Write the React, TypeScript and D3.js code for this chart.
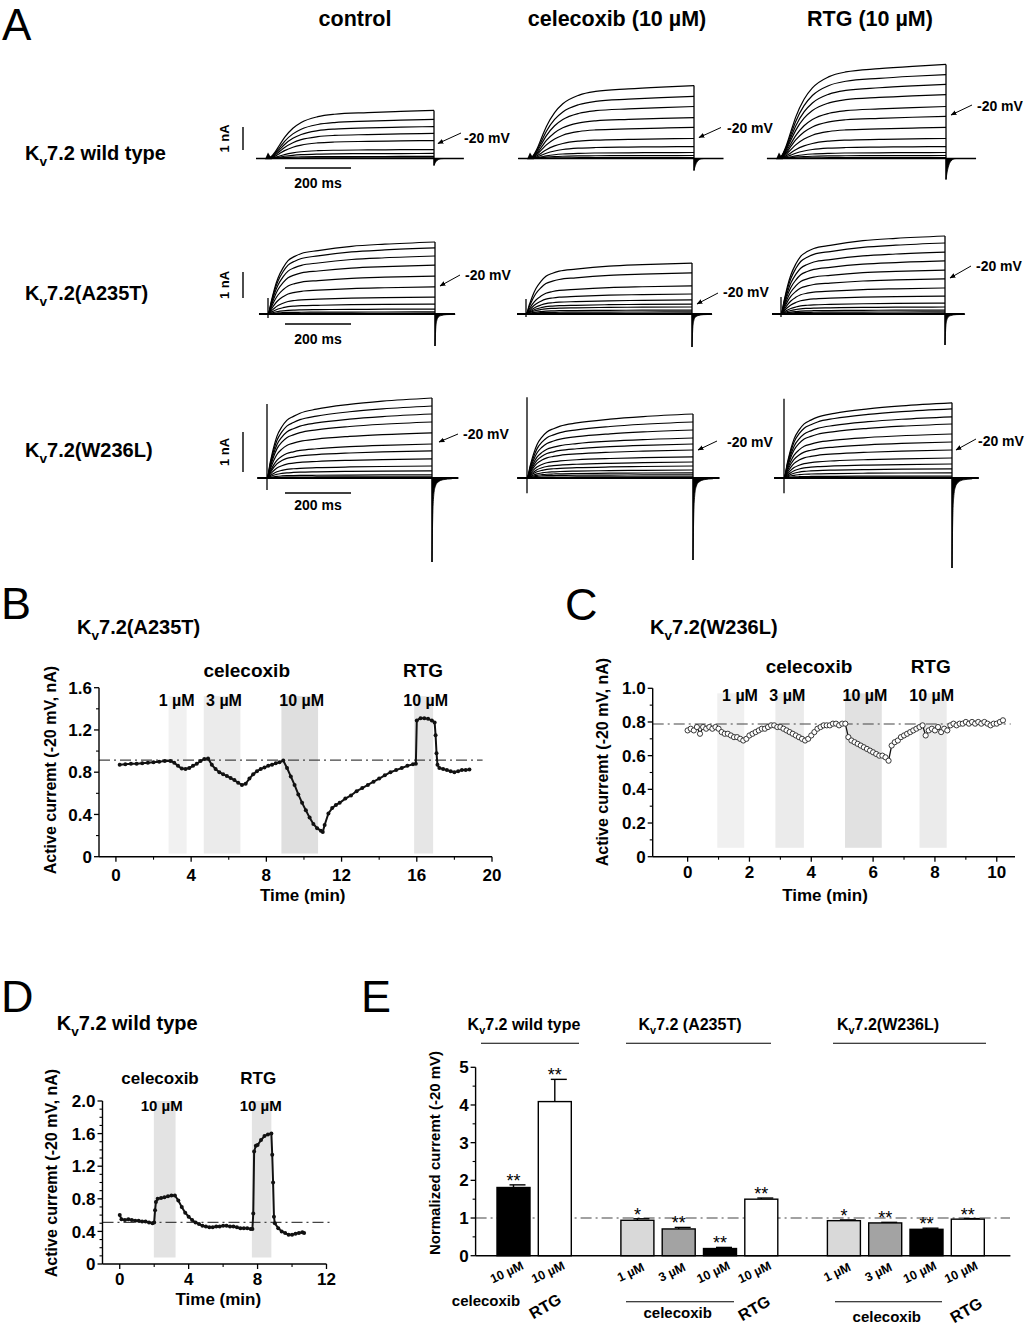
import React from "react";
import * as d3 from "d3";

const FONT = "'Liberation Sans', Arial, Helvetica, sans-serif";

// ---------------- Panel A data ----------------
const conditionLabels = ["control", "celecoxib (10 µM)", "RTG (10 µM)"];
const constructNames = [" wild type", "(A235T)", "(W236L)"];
// end-of-step amplitudes (nA) of each trace, per condition
const ampWT = [
  [2.09, 1.7, 1.39, 1.09, 0.78, 0.39, 0.22, 0.09, 0.03],
  [3.17, 2.7, 2.26, 1.78, 1.35, 0.87, 0.52, 0.26, 0.13, 0.04],
  [4.09, 3.65, 3.22, 2.78, 2.26, 1.83, 1.35, 0.87, 0.52, 0.26, 0.13, 0.04],
];
const ampA235T = [
  [2.77, 2.54, 2.23, 1.88, 1.46, 1.04, 0.65, 0.38, 0.19, 0.08, 0.03],
  [1.96, 1.58, 1.08, 0.77, 0.54, 0.38, 0.27, 0.15, 0.08, 0.03],
  [3.0, 2.73, 2.38, 2.04, 1.69, 1.35, 1.0, 0.69, 0.42, 0.27, 0.15, 0.08, 0.03],
];
const ampW236L = [
  [2.0, 1.8, 1.6, 1.4, 1.13, 0.85, 0.68, 0.48, 0.3, 0.18, 0.08, 0.03],
  [1.6, 1.4, 1.2, 1.0, 0.85, 0.7, 0.53, 0.4, 0.3, 0.2, 0.13, 0.08, 0.03],
  [1.88, 1.73, 1.53, 1.35, 1.1, 0.9, 0.7, 0.5, 0.35, 0.23, 0.13, 0.05, 0.02],
];
// activation time course (ms, fraction of final amplitude)
const actTimeWT = [0, 10, 20, 35, 50, 75, 100, 150, 200, 300, 400, 500];
const actFracWT = [0, 0.04, 0.12, 0.28, 0.44, 0.63, 0.75, 0.87, 0.92, 0.955, 0.98, 1];
const actTimeMut = [0, 10, 20, 30, 45, 60, 80, 100, 150, 250, 350, 500];
const actFracA235T = [0, 0.18, 0.36, 0.5, 0.64, 0.74, 0.8, 0.84, 0.88, 0.94, 0.97, 1];
const actFracW236L = [0, 0.2, 0.38, 0.52, 0.64, 0.72, 0.77, 0.81, 0.86, 0.92, 0.96, 1];
// tail transient depth (nA) and its shape (ms after step end, fraction)
const tailWT = [0.3, 0.52, 0.91];
const tailA235T = [1.23, 1.27, 1.19];
const tailW236L = [2.1, 2.05, 2.25];
const tailTimeWT = [0, 4, 9, 15, 22, 30];
const tailFracWT = [1, 0.6, 0.3, 0.12, 0.03, 0];
const tailTimeMut = [0, 2, 5, 10, 18, 35, 60];
const tailFracMut = [1, 0.5, 0.22, 0.1, 0.05, 0.02, 0.01];
// onset capacitive transient (up, down) in nA
const onsetWT = [[0.26, 0.04], [0.26, 0.04], [0.26, 0.04]];
const onsetA235T = [[0.62, 0.15], [0.58, 0.12], [0.65, 0.12]];
const onsetW236L = [[1.85, 0.3], [2.02, 0.38], [1.98, 0.38]];

// ---------------- Panel B data ----------------
const bTime = [0.2,0.5,0.8,1.1,1.4,1.7,2.0,2.3,2.6,2.9,3.1,3.3,3.5,3.7,3.9,4.1,4.3,4.5,4.7,4.9,5.1,5.3,5.5,5.7,5.9,6.1,6.3,6.5,6.7,6.9,7.1,7.3,7.5,7.7,7.9,8.1,8.3,8.5,8.7,8.9,9.1,9.3,9.5,9.7,9.9,10.1,10.3,10.5,10.7,10.9,11.0,11.1,11.3,11.5,11.7,11.9,12.2,12.5,12.8,13.1,13.4,13.7,14.0,14.3,14.6,14.9,15.2,15.5,15.8,15.95,16.0,16.2,16.4,16.6,16.8,16.95,17.0,17.05,17.1,17.2,17.4,17.6,17.8,18.0,18.2,18.4,18.6,18.8];
const bCurrent = [0.87,0.875,0.88,0.88,0.885,0.89,0.895,0.9,0.905,0.905,0.89,0.86,0.835,0.83,0.84,0.86,0.88,0.905,0.925,0.93,0.87,0.83,0.8,0.78,0.765,0.745,0.725,0.7,0.68,0.69,0.74,0.78,0.81,0.83,0.845,0.86,0.87,0.885,0.895,0.91,0.84,0.76,0.68,0.59,0.51,0.44,0.37,0.31,0.27,0.245,0.235,0.3,0.41,0.46,0.49,0.51,0.55,0.58,0.62,0.65,0.68,0.71,0.74,0.77,0.8,0.82,0.84,0.86,0.875,0.88,1.29,1.31,1.31,1.305,1.29,1.27,1.15,0.98,0.87,0.84,0.83,0.82,0.81,0.8,0.81,0.82,0.82,0.825];
const bBandLabels = ["1 µM", "3 µM", "10 µM", "10 µM"];
const bBandStart = [2.8, 4.67, 8.8, 15.86];
const bBandEnd = [3.76, 6.62, 10.75, 16.87];
const bBaseline = 0.915;

// ---------------- Panel C data ----------------
const cTime = [0,0.1,0.2,0.3,0.4,0.5,0.6,0.7,0.8,0.9,1.0,1.1,1.2,1.3,1.4,1.5,1.6,1.7,1.8,1.9,2.0,2.1,2.2,2.3,2.4,2.5,2.6,2.7,2.8,2.9,3.0,3.1,3.2,3.3,3.4,3.5,3.6,3.7,3.8,3.9,4.0,4.1,4.2,4.3,4.4,4.5,4.6,4.7,4.8,4.9,5.0,5.1,5.2,5.3,5.4,5.5,5.6,5.7,5.8,5.9,6.0,6.1,6.2,6.3,6.4,6.5,6.6,6.7,6.8,6.9,7.0,7.1,7.2,7.3,7.4,7.5,7.6,7.7,7.8,7.9,8.0,8.1,8.2,8.3,8.4,8.5,8.6,8.7,8.8,8.9,9.0,9.1,9.2,9.3,9.4,9.5,9.6,9.7,9.8,9.9,10.0,10.1,10.2];
const cCurrent = [0.75,0.76,0.75,0.77,0.73,0.77,0.76,0.77,0.76,0.77,0.76,0.74,0.73,0.73,0.72,0.71,0.71,0.7,0.69,0.7,0.72,0.73,0.74,0.75,0.76,0.76,0.77,0.78,0.78,0.77,0.77,0.76,0.75,0.74,0.73,0.72,0.71,0.7,0.69,0.7,0.72,0.74,0.76,0.77,0.78,0.78,0.78,0.79,0.79,0.78,0.79,0.79,0.71,0.69,0.68,0.67,0.66,0.65,0.64,0.63,0.62,0.61,0.6,0.6,0.59,0.57,0.66,0.68,0.69,0.71,0.72,0.73,0.74,0.75,0.76,0.77,0.78,0.72,0.75,0.76,0.75,0.77,0.74,0.76,0.75,0.78,0.79,0.78,0.79,0.79,0.8,0.79,0.8,0.79,0.8,0.79,0.8,0.79,0.78,0.79,0.79,0.8,0.81];
const cBandLabels = ["1 µM", "3 µM", "10 µM", "10 µM"];
const cBandStart = [0.96, 2.84, 5.09, 7.5];
const cBandEnd = [1.83, 3.76, 6.28, 8.38];
const cBaseline = 0.788;

// ---------------- Panel D data ----------------
const dTime = [0.0,0.1,0.3,0.5,0.7,0.9,1.1,1.3,1.5,1.7,1.9,2.0,2.05,2.1,2.2,2.4,2.6,2.8,3.0,3.2,3.4,3.6,3.8,4.0,4.2,4.4,4.6,4.8,5.0,5.2,5.4,5.6,5.8,6.0,6.2,6.4,6.6,6.8,7.0,7.2,7.4,7.6,7.7,7.75,7.8,7.9,8.0,8.2,8.4,8.6,8.8,8.85,8.9,8.95,9.0,9.2,9.4,9.6,9.8,10.0,10.2,10.4,10.6,10.7];
const dCurrent = [0.6,0.55,0.54,0.55,0.54,0.53,0.53,0.52,0.52,0.51,0.5,0.51,0.66,0.76,0.8,0.81,0.82,0.83,0.84,0.84,0.78,0.7,0.63,0.58,0.54,0.51,0.49,0.47,0.46,0.45,0.45,0.46,0.46,0.47,0.47,0.46,0.46,0.45,0.44,0.44,0.44,0.43,0.43,0.62,1.38,1.45,1.46,1.52,1.57,1.59,1.6,1.34,1.0,0.58,0.5,0.44,0.4,0.38,0.36,0.36,0.37,0.38,0.39,0.38];
const dBandLabels = ["10 µM", "10 µM"];
const dBandStart = [1.98, 7.67];
const dBandEnd = [3.24, 8.8];
const dBaseline = 0.51;

// ---------------- Panel E data ----------------
const eGroups = [" wild type", " (A235T)", "(W236L)"];
const eSlot = [0, 1, 3, 4, 5, 6, 8, 9, 10, 11];
const eConc = ["10 µM", "10 µM", "1 µM", "3 µM", "10 µM", "10 µM", "1 µM", "3 µM", "10 µM", "10 µM"];
const eTreatment = ["cel10", "rtg", "cel1", "cel3", "cel10", "rtg", "cel1", "cel3", "cel10", "rtg"];
const eMean = [1.81, 4.09, 0.94, 0.71, 0.19, 1.5, 0.93, 0.87, 0.7, 0.97];
const eErr = [0.07, 0.59, 0.04, 0.04, 0.03, 0.03, 0.02, 0.015, 0.03, 0.015];
const eStars = ["**", "**", "*", "**", "**", "**", "*", "**", "**", "**"];

const treatmentFill: Record<string, string> = { cel1: "#d9d9d9", cel3: "#a3a3a3", cel10: "#000", rtg: "#fff" };

// ---------------- helpers ----------------
function Kv({ x, y, rest, size, weight = "bold", anchor = "start" }: any) {
  return (
    <text x={x} y={y} fontSize={size} fontWeight={weight} textAnchor={anchor}>
      K<tspan dy={size * 0.28} fontSize={size * 0.68}>v</tspan>
      <tspan dy={-size * 0.28}>{rest}</tspan>
    </text>
  );
}

function AxisLeft({ scale, x, major, minor, fmt, fontSize = 17 }: any) {
  const [d0, d1] = scale.domain();
  return (
    <g>
      <line x1={x} x2={x} y1={scale(d0)} y2={scale(d1)} stroke="#000" strokeWidth={1.4} />
      {minor.map((v: number, i: number) => (
        <line key={"m" + i} x1={x - 3} x2={x} y1={scale(v)} y2={scale(v)} stroke="#000" strokeWidth={1.1} />
      ))}
      {major.map((v: number, i: number) => (
        <g key={i}>
          <line x1={x - 5} x2={x} y1={scale(v)} y2={scale(v)} stroke="#000" strokeWidth={1.3} />
          <text x={x - 7} y={scale(v) + fontSize * 0.36} textAnchor="end" fontSize={fontSize} fontWeight="bold">
            {fmt(v)}
          </text>
        </g>
      ))}
    </g>
  );
}

function AxisBottom({ scale, y, major, minor, fontSize = 17, labelY }: any) {
  const [r0, r1] = scale.range();
  return (
    <g>
      <line x1={r0} x2={r1} y1={y} y2={y} stroke="#000" strokeWidth={1.4} />
      {minor.map((v: number, i: number) => (
        <line key={"m" + i} x1={scale(v)} x2={scale(v)} y1={y} y2={y + 3} stroke="#000" strokeWidth={1.1} />
      ))}
      {major.map((v: number, i: number) => (
        <g key={i}>
          <line x1={scale(v)} x2={scale(v)} y1={y} y2={y + 5} stroke="#000" strokeWidth={1.3} />
          <text x={scale(v)} y={labelY} textAnchor="middle" fontSize={fontSize} fontWeight="bold">
            {v}
          </text>
        </g>
      ))}
    </g>
  );
}

const dashDot = "11 4 2 4";

// ---------------- Panel A ----------------
const rowsA = [
  { amps: ampWT, time: actTimeWT, frac: actFracWT, tail: tailWT, tailT: tailTimeWT, tailF: tailFracWT, onset: onsetWT, wedge: true },
  { amps: ampA235T, time: actTimeMut, frac: actFracA235T, tail: tailA235T, tailT: tailTimeMut, tailF: tailFracMut, onset: onsetA235T, wedge: false },
  { amps: ampW236L, time: actTimeMut, frac: actFracW236L, tail: tailW236L, tailT: tailTimeMut, tailF: tailFracMut, onset: onsetW236L, wedge: false },
];
const layoutA = [
  { base: 158.5, px: 23, starts: [268, 530, 779], ends: [434, 694, 946], ext: [-36, 590], bar: [127, 150], msBarY: 168, msTextY: 188, labelY: 160 },
  { base: 314, px: 26, starts: [268, 526, 781], ends: [435, 692, 945], ext: [-27, 560], bar: [272, 298], msBarY: 324, msTextY: 344, labelY: 300 },
  { base: 478, px: 40, starts: [267, 527, 784], ends: [432, 693, 952], ext: [-28, 580], bar: [432, 472], msBarY: 493, msTextY: 510, labelY: 457 },
];
const mvPos = [
  [[464, 143, 461, 133, 438, 143.5], [727, 133, 721, 127.5, 699, 137.5], [977, 111, 972, 105, 951, 115]],
  [[465, 280, 460, 275, 440, 286], [723, 297, 718, 293, 697, 304], [976, 271, 971, 266, 950, 278]],
  [[463, 439, 458, 434, 439, 442], [727, 447, 717, 441, 698, 450], [978, 446, 976, 439, 956, 450]],
];

function TraceSet({ r, c }: any) {
  const L = layoutA[r];
  const R = rowsA[r];
  const x = d3.scaleLinear().domain([0, 500]).range([L.starts[c], L.ends[c]]);
  const y = d3.scaleLinear().domain([0, 1]).range([L.base, L.base - L.px]);
  const line = d3
    .line<[number, number]>()
    .x((d) => x(d[0]))
    .y((d) => y(d[1]))
    .curve(d3.curveMonotoneX);
  const amps = R.amps[c];
  const maxA = d3.max(amps) as number;
  const tail = R.tail[c];
  const area = d3
    .area<number>()
    .x((_, i) => x(500 + R.tailT[i]))
    .y0(y(0))
    .y1((_, i) => y(-tail * R.tailF[i]))
    .curve(d3.curveMonotoneX);
  const [up, down] = R.onset[c];
  const m = mvPos[r][c];
  return (
    <g>
      <line x1={x(L.ext[0])} x2={x(L.ext[1])} y1={y(0)} y2={y(0)} stroke="#000" strokeWidth={r === 0 ? 1.4 : 2} />
      {amps.map((a: number, i: number) => {
        const pts: [number, number][] = [[L.ext[0], 0] as [number, number]].concat(
          R.time.map((t: number, k: number) => [t, a * R.frac[k]] as [number, number])
        );
        return <path key={i} d={line(pts) as string} fill="none" stroke="#000" strokeWidth={1.2} />;
      })}
      <line x1={x(500)} x2={x(500)} y1={y(maxA)} y2={y(-tail)} stroke="#000" strokeWidth={1.3} />
      <path d={area(R.tailT) as string} fill="#000" stroke="#000" strokeWidth={0.8} />
      {R.wedge ? (
        <path d={`M${x(0) - 3},${y(-0.03)} L${x(0)},${y(up)} L${x(0) + 4},${y(-0.03)} Z`} fill="#000" />
      ) : (
        <line x1={x(0)} x2={x(0)} y1={y(up)} y2={y(-down)} stroke="#000" strokeWidth={1.3} />
      )}
      <line x1={m[2]} y1={m[3]} x2={m[4]} y2={m[5]} stroke="#000" strokeWidth={1} markerEnd="url(#ah)" />
      <text x={m[0]} y={m[1]} fontSize={14} fontWeight="bold">-20 mV</text>
    </g>
  );
}

function PanelA() {
  const headerX = [355, 617, 870];
  return (
    <g>
      <text x={2} y={40} fontSize={44}>A</text>
      {conditionLabels.map((t, i) => (
        <text key={i} x={headerX[i]} y={26} fontSize={21.5} fontWeight="bold" textAnchor="middle">{t}</text>
      ))}
      {layoutA.map((L, r) => (
        <g key={r}>
          <Kv x={25} y={L.labelY} rest={"7.2" + constructNames[r]} size={20} weight="bold" />
          <line x1={243} x2={243} y1={L.bar[0]} y2={L.bar[1]} stroke="#000" strokeWidth={1.4} />
          <text transform={`translate(229,${(L.bar[0] + L.bar[1]) / 2}) rotate(-90)`} textAnchor="middle" fontSize={13} fontWeight="bold">1 nA</text>
          <line x1={285} x2={351} y1={L.msBarY} y2={L.msBarY} stroke="#000" strokeWidth={1.4} />
          <text x={318} y={L.msTextY} textAnchor="middle" fontSize={14} fontWeight="bold">200 ms</text>
          {[0, 1, 2].map((c) => <TraceSet key={c} r={r} c={c} />)}
        </g>
      ))}
    </g>
  );
}

// ---------------- generic time-course panel ----------------
function TimeCourse(p: any) {
  const { x, y, time, value, open, bands, bandFill, bandLo, bandHi, baseline, baseEnd, yAxisX } = p;
  const line = d3
    .line<number>()
    .x((_, i) => x(time[i]))
    .y((v) => y(v));
  return (
    <g>
      {bands.start.map((s: number, i: number) => (
        <rect key={i} x={x(s)} width={x(bands.end[i]) - x(s)} y={y(bandHi)} height={y(bandLo) - y(bandHi)} fill={bandFill[i]} />
      ))}
      <line x1={yAxisX} x2={x(baseEnd)} y1={y(baseline)} y2={y(baseline)} stroke="#444" strokeWidth={1.2} strokeDasharray={dashDot} />
      <path d={line(value) as string} fill="none" stroke="#111" strokeWidth={open ? 1.3 : 2} />
      {value.map((v: number, i: number) =>
        open ? (
          <circle key={i} cx={x(time[i])} cy={y(v)} r={2.6} fill="#fff" stroke="#222" strokeWidth={0.9} />
        ) : (
          <circle key={i} cx={x(time[i])} cy={y(v)} r={2} fill="#111" />
        )
      )}
      <AxisLeft scale={y} x={yAxisX} major={p.yMajor} minor={p.yMinor} fmt={p.yFmt} />
      <AxisBottom scale={x} y={y(0)} major={p.xMajor} minor={p.xMinor} labelY={p.xLabelY} />
      <text x={p.timeLabel[0]} y={p.timeLabel[1]} textAnchor="middle" fontSize={17} fontWeight="bold">Time (min)</text>
      <text transform={`translate(${p.yLabel[0]},${p.yLabel[1]}) rotate(-90)`} textAnchor="middle" fontSize={16} fontWeight="bold">
        Active curremt (-20 mV, nA)
      </text>
    </g>
  );
}

const fmt1 = (v: number) => (v === 0 ? "0" : v.toFixed(1));

function PanelB() {
  const x = d3.scaleLinear().domain([-0.9, 20]).range([99, 492]);
  const y = d3.scaleLinear().domain([0, 1.6]).range([856.7, 687.7]);
  const labelX = [176.7, 224, 301.7, 425.7];
  return (
    <g>
      <text x={1} y={619} fontSize={45}>B</text>
      <Kv x={77} y={634} rest="7.2(A235T)" size={20} />
      <TimeCourse
        x={x} y={y} time={bTime} value={bCurrent} open={false}
        bands={{ start: bBandStart, end: bBandEnd }} bandFill={["#f1f1f1", "#ebebeb", "#dfdfdf", "#e6e6e6"]}
        bandLo={0.03} bandHi={1.52} baseline={bBaseline} baseEnd={19.5} yAxisX={99}
        yMajor={[0, 0.4, 0.8, 1.2, 1.6]} yMinor={[0.2, 0.6, 1.0, 1.4]} yFmt={fmt1}
        xMajor={[0, 4, 8, 12, 16, 20]} xMinor={[2, 6, 10, 14, 18]} xLabelY={881}
        timeLabel={[302.7, 901]} yLabel={[56, 770]}
      />
      <text x={246.7} y={677} textAnchor="middle" fontSize={19} fontWeight="bold">celecoxib</text>
      <text x={423} y={677} textAnchor="middle" fontSize={19} fontWeight="bold">RTG</text>
      {bBandLabels.map((t, i) => (
        <text key={i} x={labelX[i]} y={706} textAnchor="middle" fontSize={16} fontWeight="bold">{t}</text>
      ))}
    </g>
  );
}

function PanelC() {
  const x = d3.scaleLinear().domain([-1.13, 10.59]).range([652.7, 1015]);
  const y = d3.scaleLinear().domain([0, 1]).range([856.7, 688.3]);
  const labelX = [740, 787.3, 865, 931.7];
  return (
    <g>
      <text x={565} y={620} fontSize={45}>C</text>
      <Kv x={650} y={634} rest="7.2(W236L)" size={20} />
      <TimeCourse
        x={x} y={y} time={cTime} value={cCurrent} open={true}
        bands={{ start: cBandStart, end: cBandEnd }} bandFill={["#f0f0f0", "#ebebeb", "#e1e1e1", "#ebebeb"]}
        bandLo={0.053} bandHi={0.97} baseline={cBaseline} baseEnd={10.45} yAxisX={652.7}
        yMajor={[0, 0.2, 0.4, 0.6, 0.8, 1.0]} yMinor={[0.1, 0.3, 0.5, 0.7, 0.9]} yFmt={fmt1}
        xMajor={[0, 2, 4, 6, 8, 10]} xMinor={[1, 3, 5, 7, 9]} xLabelY={878}
        timeLabel={[825, 901]} yLabel={[608, 762]}
      />
      <text x={809} y={673} textAnchor="middle" fontSize={19} fontWeight="bold">celecoxib</text>
      <text x={930.7} y={673} textAnchor="middle" fontSize={19} fontWeight="bold">RTG</text>
      {cBandLabels.map((t, i) => (
        <text key={i} x={labelX[i]} y={701} textAnchor="middle" fontSize={16} fontWeight="bold">{t}</text>
      ))}
    </g>
  );
}

function PanelD() {
  const x = d3.scaleLinear().domain([-1, 12]).range([102.5, 326.5]);
  const y = d3.scaleLinear().domain([0, 2]).range([1264, 1101]);
  const labelX = [161.7, 260.7];
  const minor = d3.range(1, 20).map((k) => k / 10).filter((v) => Math.abs((v / 0.4) - Math.round(v / 0.4)) > 1e-6);
  return (
    <g>
      <text x={1} y={1012} fontSize={45}>D</text>
      <Kv x={56.7} y={1030} rest="7.2 wild type" size={20} />
      <TimeCourse
        x={x} y={y} time={dTime} value={dCurrent} open={false}
        bands={{ start: dBandStart, end: dBandEnd }} bandFill={["#e3e3e3", "#e3e3e3"]}
        bandLo={0.08} bandHi={2.0} baseline={dBaseline} baseEnd={12.35} yAxisX={102.5}
        yMajor={[0, 0.4, 0.8, 1.2, 1.6, 2.0]} yMinor={minor} yFmt={fmt1}
        xMajor={[0, 4, 8, 12]} xMinor={[2, 6, 10]} xLabelY={1285}
        timeLabel={[218.3, 1305]} yLabel={[57, 1173]}
      />
      <text x={160} y={1084} textAnchor="middle" fontSize={17} fontWeight="bold">celecoxib</text>
      <text x={258.3} y={1084} textAnchor="middle" fontSize={17} fontWeight="bold">RTG</text>
      {dBandLabels.map((t, i) => (
        <text key={i} x={labelX[i]} y={1111} textAnchor="middle" fontSize={15} fontWeight="bold">{t}</text>
      ))}
    </g>
  );
}

function PanelE() {
  const y = d3.scaleLinear().domain([0, 5]).range([1255.7, 1067.3]);
  const x = d3.scaleLinear().domain([0, 11]).range([513.5, 967.8]);
  const axisX = 475.6;
  const bw = 33;
  const headerX = [524, 690, 888];
  const underline = [[481, 579], [626, 771], [833, 986]];
  return (
    <g>
      <text x={361} y={1012} fontSize={45}>E</text>
      {eGroups.map((g, i) => (
        <g key={i}>
          <Kv x={headerX[i]} y={1030} rest={"7.2" + g} size={16} weight="bold" anchor="middle" />
          <line x1={underline[i][0]} x2={underline[i][1]} y1={1043.3} y2={1043.3} stroke="#000" strokeWidth={1.1} />
        </g>
      ))}
      <line x1={axisX} x2={1010} y1={y(1)} y2={y(1)} stroke="#444" strokeWidth={1.2} strokeDasharray={dashDot} />
      {eSlot.map((s, i) => {
        const cx = x(s);
        const top = y(eMean[i] + eErr[i]);
        return (
          <g key={i}>
            <line x1={cx} x2={cx} y1={y(eMean[i])} y2={top} stroke="#000" strokeWidth={1.4} />
            <line x1={cx - 4} x2={cx + 12} y1={top} y2={top} stroke="#000" strokeWidth={1.4} />
            <rect x={cx - bw / 2} y={y(eMean[i])} width={bw} height={y(0) - y(eMean[i])} fill={treatmentFill[eTreatment[i]]} stroke="#000" strokeWidth={1.4} />
            <text x={cx} y={top + 2} textAnchor="middle" fontSize={18}>{eStars[i]}</text>
            <text transform={`translate(${cx - 5},${1276}) rotate(-25)`} textAnchor="middle" fontSize={12.5} fontWeight="bold">{eConc[i]}</text>
          </g>
        );
      })}
      <line x1={axisX} x2={1010.4} y1={y(0)} y2={y(0)} stroke="#000" strokeWidth={1.4} />
      <AxisLeft scale={y} x={axisX} major={[0, 1, 2, 3, 4, 5]} minor={[0.5, 1.5, 2.5, 3.5, 4.5]} fmt={(v: number) => String(v)} />
      <text transform={`translate(440,1153) rotate(-90)`} textAnchor="middle" fontSize={15} fontWeight="bold">
        Normalized curremt (-20 mV)
      </text>
      <text x={486} y={1306} textAnchor="middle" fontSize={15} fontWeight="bold">celecoxib</text>
      <text transform="translate(548,1311) rotate(-30)" textAnchor="middle" fontSize={16} fontWeight="bold">RTG</text>
      <line x1={626} x2={734} y1={1301.7} y2={1301.7} stroke="#000" strokeWidth={1.1} />
      <text x={677.7} y={1318} textAnchor="middle" fontSize={15} fontWeight="bold">celecoxib</text>
      <text transform="translate(757,1313) rotate(-30)" textAnchor="middle" fontSize={16} fontWeight="bold">RTG</text>
      <line x1={835} x2={942} y1={1301.7} y2={1301.7} stroke="#000" strokeWidth={1.1} />
      <text x={886.8} y={1322} textAnchor="middle" fontSize={15} fontWeight="bold">celecoxib</text>
      <text transform="translate(969,1315) rotate(-30)" textAnchor="middle" fontSize={16} fontWeight="bold">RTG</text>
    </g>
  );
}

export default function App() {
  return (
    <svg width={1026} height={1325} style={{ position: "absolute", left: 0, top: 0, background: "#fff" }} fontFamily={FONT}>
      <defs>
        <marker id="ah" viewBox="0 0 10 10" refX={9} refY={5} markerWidth={6} markerHeight={6} orient="auto">
          <path d="M0,1 L10,5 L0,9 z" fill="#000" />
        </marker>
      </defs>
      <rect width={1026} height={1325} fill="#fff" />
      <PanelA />
      <PanelB />
      <PanelC />
      <PanelD />
      <PanelE />
    </svg>
  );
}
